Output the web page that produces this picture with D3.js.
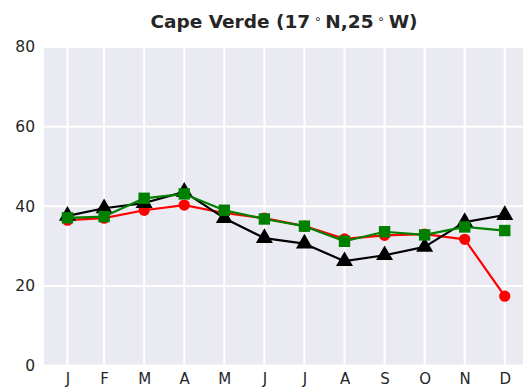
<!DOCTYPE html>
<html>
<head>
<meta charset="utf-8">
<script src="https://cdn.jsdelivr.net/npm/d3@7/dist/d3.min.js"></script>
<style>
  html, body { margin: 0; padding: 0; background: #ffffff; }
  svg { display: block; font-family: "DejaVu Sans", sans-serif; }
</style>
</head>
<body>
<svg id="chart" width="523" height="389"></svg>
<script>
// Monthly climatology, Cape Verde (17°N, 25°W)
const months = ["J", "F", "M", "A", "M", "J", "J", "A", "S", "O", "N", "D"];
const monthPos = [1.085, 2, 3, 4, 5, 6, 7, 8, 9, 10, 11, 12];
const redSeries   = [36.5, 37.0, 39.0, 40.3, 38.3, 37.0, 35.0, 31.8, 32.7, 33.0, 31.7, 17.4];
const blackSeries = [37.6, 39.5, 40.8, 43.6, 37.0, 32.0, 30.6, 26.2, 27.7, 29.8, 36.0, 37.8];
const greenSeries = [37.1, 37.4, 42.0, 43.1, 39.0, 36.8, 35.0, 31.2, 33.6, 32.8, 34.8, 33.9];
const yTicks = [0, 20, 40, 60, 80];

const svg = d3.select("#chart");
const margin = { left: 44, top: 47, right: 0, bottom: 23.5 };
const W = 523, H = 389;
const plotW = W - margin.left, plotH = H - margin.top - margin.bottom;

const x = d3.scaleLinear().domain([0.5, 12.5]).range([margin.left, margin.left + 480.8]);
const y = d3.scaleLinear().domain([0, 80]).range([margin.top + plotH, margin.top]);

// panel background
svg.append("rect")
  .attr("x", margin.left).attr("y", margin.top)
  .attr("width", plotW).attr("height", plotH)
  .attr("fill", "#EAEAF2");

// grid
const grid = svg.append("g");
grid.selectAll("line.h").data(yTicks).join("line")
  .attr("x1", margin.left).attr("x2", W)
  .attr("y1", d => y(d)).attr("y2", d => y(d))
  .attr("stroke", "#ffffff").attr("stroke-width", 2);
grid.selectAll("line.v").data(monthPos).join("line")
  .attr("y1", margin.top).attr("y2", margin.top + plotH)
  .attr("x1", d => x(d)).attr("x2", d => x(d))
  .attr("stroke", "#ffffff").attr("stroke-width", 2);

// axes (labels only)
const yAxis = d3.axisLeft(y).tickValues(yTicks).tickSize(0).tickPadding(9);
const gy = svg.append("g").attr("transform", `translate(${margin.left},0)`).call(yAxis);
gy.select(".domain").remove();
gy.selectAll("text").attr("font-size", 15.5).attr("fill", "#262626")
  .attr("font-family", "DejaVu Sans, sans-serif");

const xAxis = d3.axisBottom(x).tickValues(monthPos).tickFormat((d, i) => months[i])
  .tickSize(0).tickPadding(8);
const gx = svg.append("g").attr("transform", `translate(0,${margin.top + plotH})`).call(xAxis);
gx.select(".domain").remove();
gx.selectAll("text").attr("font-size", 15).attr("fill", "#262626")
  .attr("font-family", "DejaVu Sans, sans-serif");

// series
const line = d3.line().x((d, i) => x(monthPos[i])).y(d => y(d));
const series = [
  { values: redSeries, color: "#ff0000", symbol: d3.symbolCircle, size: 100 },
  { values: blackSeries, color: "#000000", symbol: d3.symbolTriangle, size: 125 },
  { values: greenSeries, color: "#008000", symbol: d3.symbolSquare, size: 130 }
];
series.forEach(s => {
  const g = svg.append("g");
  g.append("path").datum(s.values)
    .attr("d", line).attr("fill", "none")
    .attr("stroke", s.color).attr("stroke-width", 2.2)
    .attr("stroke-linejoin", "round");
  g.selectAll("path.m").data(s.values).join("path")
    .attr("class", "m")
    .attr("d", d3.symbol().type(s.symbol).size(s.size))
    .attr("transform", (d, i) => `translate(${x(monthPos[i])},${y(d)})`)
    .attr("fill", s.color);
});

// title
const title = svg.append("text")
  .attr("x", 284).attr("y", 28)
  .attr("text-anchor", "middle")
  .attr("font-size", 18.5).attr("font-weight", "bold").attr("fill", "#262626");
title.append("tspan").text("Cape Verde (17");
title.append("tspan").attr("font-size", 12).attr("font-weight", "normal").attr("dy", -5).text(" ∘ ");
title.append("tspan").attr("dy", 5).text("N,25");
title.append("tspan").attr("font-size", 12).attr("font-weight", "normal").attr("dy", -5).text(" ∘ ");
title.append("tspan").attr("dy", 5).text("W)");
</script>
</body>
</html>
